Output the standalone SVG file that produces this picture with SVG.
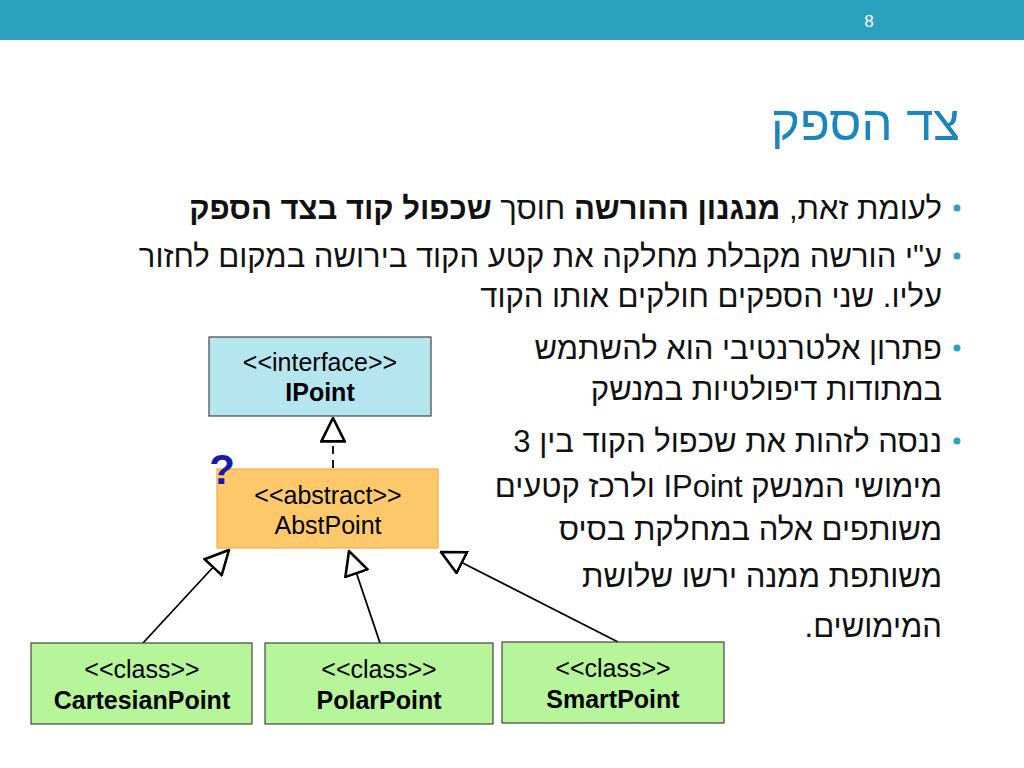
<svg xmlns="http://www.w3.org/2000/svg" width="1024" height="768" viewBox="0 0 1024 768">
<style>
.he{font-family:"Liberation Sans","DejaVu Sans",sans-serif;font-size:31px;fill:#111}
.b{font-weight:bold}
.bul{fill:#2aa3c0}
.n{font-family:"Liberation Sans",Arial,sans-serif;font-size:25px;fill:#000;text-anchor:middle}
.box{stroke:#444;stroke-width:1.2}
.ln{fill:none;stroke:#000;stroke-width:1.8}
</style>
<defs>
<marker id="tri" viewBox="0 0 20 20" refX="19" refY="10" markerWidth="26" markerHeight="26" markerUnits="userSpaceOnUse" orient="auto"><path d="M1,1 L19,10 L1,19 Z" fill="#fff" stroke="#000" stroke-width="2"/></marker>
</defs>
<rect width="1024" height="768" fill="#fff"/>
<rect width="1024" height="40" fill="#2aa1be"/>
<text x="869" y="27" font-family="Liberation Sans,sans-serif" font-size="17" fill="#fff" text-anchor="middle">8</text>
<text x="960" y="140" direction="rtl" font-family="Liberation Sans,sans-serif" font-size="49" fill="#1a86c0">צד הספק</text>
<g class="he" direction="rtl">
<circle class="bul" cx="957" cy="208" r="3.5"/>
<circle class="bul" cx="957" cy="256" r="3.5"/>
<circle class="bul" cx="957" cy="348" r="3.5"/>
<circle class="bul" cx="957" cy="441" r="3.5"/>
<text x="942" y="219">לעומת זאת, <tspan class="b">מנגנון ההורשה</tspan> חוסך <tspan class="b">שכפול קוד בצד הספק</tspan></text>
<text x="942" y="267">ע"י הורשה מקבלת מחלקה את קטע הקוד בירושה במקום לחזור</text>
<text x="942" y="307">עליו. שני הספקים חולקים אותו הקוד</text>
<text x="942" y="359">פתרון אלטרנטיבי הוא להשתמש</text>
<text x="942" y="400">במתודות דיפולטיות במנשק</text>
<text x="942" y="452">ננסה לזהות את שכפול הקוד בין 3</text>
<text x="942" y="497">מימושי המנשק IPoint ולרכז קטעים</text>
<text x="942" y="540">משותפים אלה במחלקת בסיס</text>
<text x="942" y="587">משותפת  ממנה ירשו שלושת</text>
<text x="942" y="637">המימושים.</text>
</g>
<g id="connectors">
<line class="ln" x1="333" y1="468" x2="333" y2="418" stroke-dasharray="8,6" marker-end="url(#tri)"/>
<line class="ln" x1="143" y1="643" x2="229" y2="550" marker-end="url(#tri)"/>
<line class="ln" x1="380" y1="643" x2="349" y2="551" marker-end="url(#tri)"/>
<line class="ln" x1="618" y1="642" x2="441" y2="552" marker-end="url(#tri)"/>
</g>
<g id="IPoint"><rect class="box" x="209" y="337" width="222" height="79" fill="#b5e6ef"/>
<text class="n" x="320" y="371">&lt;&lt;interface&gt;&gt;</text><text class="n b" x="320" y="401">IPoint</text></g>
<g id="AbstPoint"><rect x="217" y="469" width="221" height="79" fill="#fdc96a" stroke="#f5a94a" stroke-width="1.2"/>
<text class="n" x="328" y="504">&lt;&lt;abstract&gt;&gt;</text><text class="n" x="328" y="534">AbstPoint</text>
<text x="222" y="484" font-family="Liberation Sans,sans-serif" font-size="42" font-weight="bold" fill="#1a1aa8" text-anchor="middle">?</text></g>
<g id="CartesianPoint"><rect class="box" x="31" y="643" width="221" height="81" fill="#b7f59a"/>
<text class="n" x="142" y="678">&lt;&lt;class&gt;&gt;</text><text class="n b" x="142" y="709">CartesianPoint</text></g>
<g id="PolarPoint"><rect class="box" x="265" y="643" width="228" height="81" fill="#b7f59a"/>
<text class="n" x="379" y="678">&lt;&lt;class&gt;&gt;</text><text class="n b" x="379" y="709">PolarPoint</text></g>
<g id="SmartPoint"><rect class="box" x="502" y="642" width="222" height="81" fill="#b7f59a"/>
<text class="n" x="613" y="677">&lt;&lt;class&gt;&gt;</text><text class="n b" x="613" y="708">SmartPoint</text></g>
</svg>
